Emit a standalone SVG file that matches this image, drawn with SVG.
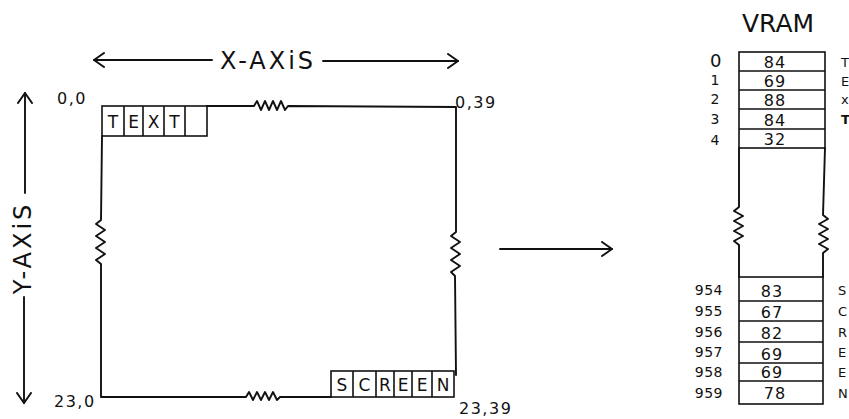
<svg xmlns="http://www.w3.org/2000/svg" width="849" height="419" viewBox="0 0 849 419">
<style>
  .ln{fill:none;stroke:#111;stroke-width:1.9;stroke-linecap:round;stroke-linejoin:round}
  .cell{fill:none;stroke:#111;stroke-width:1.6}
  .t{font-family:"DejaVu Sans","Liberation Sans",sans-serif;fill:#111}
  .ax{font-size:24px;letter-spacing:3px}
  .lbl{font-size:16px;letter-spacing:1.5px}
  .ch{font-size:17px;text-anchor:middle}
  .num{font-size:16px;text-anchor:middle;letter-spacing:1px}
  .idx{font-size:14px;text-anchor:end;letter-spacing:0.5px}
  .side{font-size:13px}
</style>
<defs>
  <marker id="ah" viewBox="0 0 12 16" refX="11" refY="8" markerWidth="12" markerHeight="16" markerUnits="userSpaceOnUse" orient="auto">
    <path d="M1,1 L11,8 L1,15" fill="none" stroke="#111" stroke-width="2" stroke-linecap="round" stroke-linejoin="round"/>
  </marker>
</defs>

<g id="connectors">
  <path class="ln" d="M212,60 L94,60" marker-end="url(#ah)"/>
  <path class="ln" d="M323,61 L458,61" marker-end="url(#ah)"/>
  <path class="ln" d="M25,193 L25,93" marker-end="url(#ah)"/>
  <path class="ln" d="M24,297 L24,403" marker-end="url(#ah)"/>
  <path class="ln" d="M500,249 L612,249" marker-end="url(#ah)"/>
</g>

<g id="x-axis-label">
  <text class="t ax" x="268" y="69" text-anchor="middle">X-AXiS</text>
</g>
<g id="y-axis-label">
  <text class="t ax" x="0" y="0" text-anchor="middle" transform="translate(31,248) rotate(-90)">Y-AXiS</text>
</g>

<g id="screen">
  <path class="ln" d="M207,106 L254,106 l3,-5 l4,9 l4,-9 l4,9 l4,-9 l4,9 l4,-9 l4,9 l3,-4 L456,107 L456,232 l-5,4 l9,6 l-9,6 l9,6 l-9,6 l9,6 l-9,6 l4,4 L456,375"/>
  <path class="ln" d="M102,136 L101,220 l-5,4 l9,6 l-9,6 l9,6 l-9,6 l9,6 l-9,6 l5,4 L101,397 L246,397 l3,-5 l4,8 l4,-8 l4,8 l4,-8 l4,8 l4,-8 l4,8 l3,-3 L331,397"/>
  <g id="text-cells">
    <rect class="cell" x="102" y="106" width="105" height="30"/>
    <path class="cell" d="M124,106 V136 M143,106 V136 M164,106 V136 M185,106 V136"/>
    <text class="t ch" x="113" y="128">T</text>
    <text class="t ch" x="133.5" y="128">E</text>
    <text class="t ch" x="153.5" y="128">X</text>
    <text class="t ch" x="174.5" y="128">T</text>
  </g>
  <g id="screen-cells">
    <rect class="cell" x="331" y="371" width="123" height="26"/>
    <path class="cell" d="M353,371 V397 M376,371 V397 M394,371 V397 M412,371 V397 M432,371 V397"/>
    <text class="t ch" x="342" y="391">S</text>
    <text class="t ch" x="364.5" y="391">C</text>
    <text class="t ch" x="385" y="391">R</text>
    <text class="t ch" x="403" y="391">E</text>
    <text class="t ch" x="422" y="391">E</text>
    <text class="t ch" x="443" y="391">N</text>
  </g>
  <text class="t lbl" x="57" y="104">0,0</text>
  <text class="t lbl" x="455" y="108">0,39</text>
  <text class="t lbl" x="54" y="407">23,0</text>
  <text class="t lbl" x="459" y="414">23,39</text>
</g>

<g id="vram">
  <text class="t" x="742" y="32" font-size="25">VRAM</text>
  <rect class="cell" x="739" y="52" width="86" height="96"/>
  <path class="cell" d="M739,71 H825 M739,90 H825 M739,109 H825 M739,129 H825"/>
  <path class="ln" d="M739,148 L739,207 l-5,4 l9,5 l-9,5 l9,5 l-9,5 l9,5 l-9,5 l5,4 L739,277"/>
  <path class="ln" d="M825,148 L823,215 l5,4 l-9,5 l9,5 l-9,5 l9,5 l-9,5 l9,5 l-5,4 L823,277"/>
  <rect class="cell" x="739" y="277" width="84" height="127"/>
  <path class="cell" d="M739,301 H823 M739,321 H823 M739,342 H823 M739,363 H823 M739,381 H823"/>
  <g class="t num">
    <text x="775" y="68">84</text>
    <text x="775" y="87">69</text>
    <text x="775" y="106">88</text>
    <text x="775" y="126">84</text>
    <text x="775" y="145">32</text>
    <text x="772" y="297">83</text>
    <text x="772" y="318">67</text>
    <text x="772" y="339">82</text>
    <text x="772" y="360">69</text>
    <text x="772" y="378">69</text>
    <text x="775" y="399">78</text>
  </g>
  <g class="t idx">
    <text x="722" y="67" font-size="18">0</text>
    <text x="720" y="85">1</text>
    <text x="720" y="104">2</text>
    <text x="720" y="124">3</text>
    <text x="720" y="145">4</text>
    <text x="723" y="295">954</text>
    <text x="723" y="316">955</text>
    <text x="723" y="337">956</text>
    <text x="723" y="357">957</text>
    <text x="723" y="377">958</text>
    <text x="723" y="398">959</text>
  </g>
  <g class="t side">
    <text x="841" y="67">T</text>
    <text x="841" y="86">E</text>
    <text x="841" y="104">x</text>
    <text x="841" y="124" font-weight="bold">T</text>
    <text x="838" y="295">S</text>
    <text x="838" y="316">C</text>
    <text x="838" y="337">R</text>
    <text x="838" y="357">E</text>
    <text x="838" y="377">E</text>
    <text x="838" y="398">N</text>
  </g>
</g>
</svg>
